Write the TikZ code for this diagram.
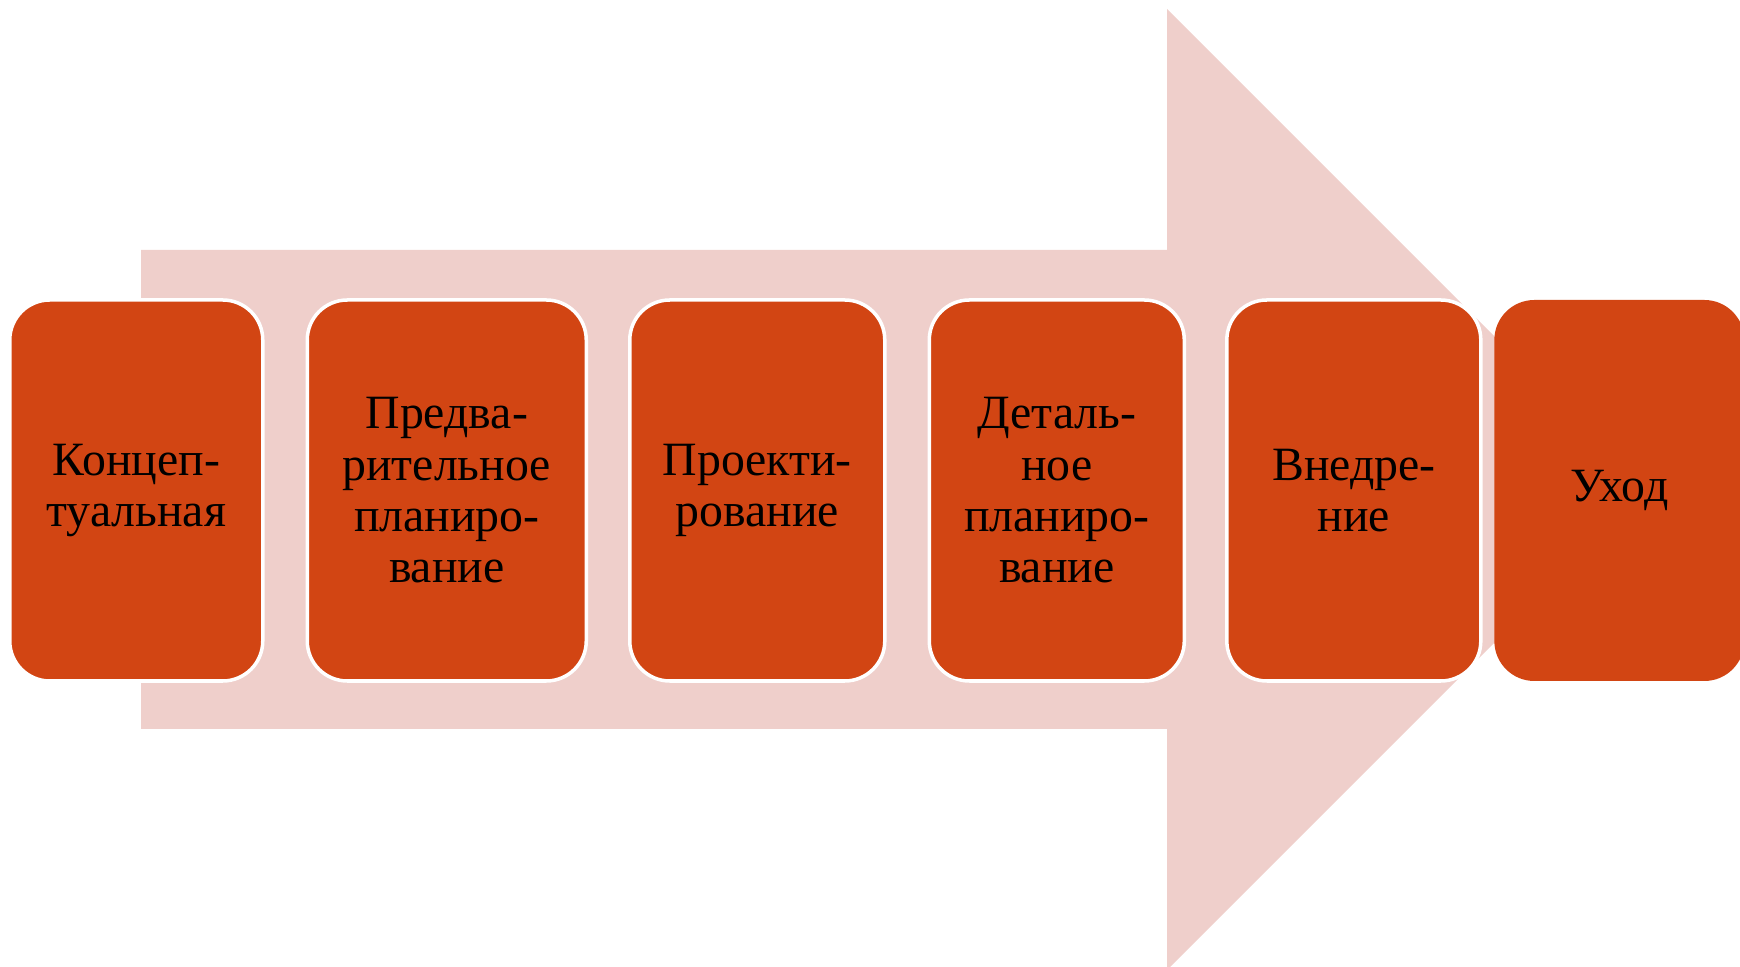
\documentclass[tikz,border=0pt]{standalone}
\usepackage{fontspec}
\setmainfont{Liberation Serif}
\usetikzlibrary{positioning}
\definecolor{stagefill}{HTML}{D24513}
\definecolor{arrowfill}{HTML}{EFCFCB}

\begin{document}
\begin{tikzpicture}[
      stage/.style={draw=white, line width=1pt, fill=stagefill, rounded corners=0.4cm,
        minimum height=3.81cm, minimum width=2.53cm, align=center,
        font=\fontsize{13.6}{14.6}\selectfont, inner sep=0pt}
    ]
    \useasboundingbox (0,0) rectangle (17.4,9.67);

    % Arrow
    \fill[arrowfill] (1.41,7.17) -- (11.67,7.17) -- (11.67,9.58) -- (16.475,4.775)
      -- (11.67,-0.03) -- (11.67,2.38) -- (1.41,2.38) -- cycle;

    % Nodes
    \node[stage, anchor=west] (concept) at (0.08,4.765) {Концеп-\\туальная};
    \node[stage, minimum width=2.79cm, right=0.41cm of concept] (prelim) {Предва-\\рительное\\планиро-\\вание};
    \node[stage, minimum width=2.55cm, right=0.40cm of prelim] (design) {Проекти-\\рование};
    \node[stage, minimum width=2.55cm, right=0.41cm of design] (detail) {Деталь-\\ное\\планиро-\\вание};
    \node[stage, minimum width=2.54cm, right=0.39cm of detail] (deploy) {Внедре-\\ние};
    \node[stage, draw=none, minimum width=2.5cm, right=0.10cm of deploy] (exit) {Уход};

  \end{tikzpicture}
\end{document}
